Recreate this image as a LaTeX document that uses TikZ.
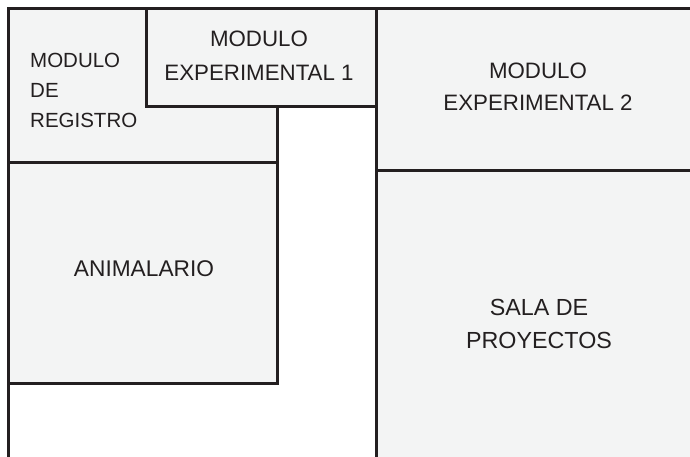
\documentclass[tikz,border=0pt]{standalone}
\usepackage{fontspec}
\setmainfont{Liberation Sans}
\usetikzlibrary{calc,positioning}

\definecolor{wallc}{HTML}{231F20}
\definecolor{roomc}{HTML}{F3F4F4}

\tikzset{
    wall/.style={line width=3pt,draw=wallc,line cap=rect},
    room/.style={fill=roomc},
    roomname/.style={text=wallc,inner sep=0pt}
}

\begin{document}
\begin{tikzpicture}[x=1pt,y=-1pt]
            \useasboundingbox (0,0) rectangle (690,457);
            % corners of the plan
            \coordinate (TL) at (8,9);
            \coordinate (TR) at (690,9);
            \coordinate (BL) at (8,457);
            \coordinate (M) at (376,9);
            \coordinate (MB) at (376,457);

            % room fills
            \fill[room] (8,9) rectangle (277,383);
            \fill[room] (146,9) rectangle (376,107);
            \fill[room] (376,9) rectangle (690,457);

            % walls
            \draw[wall] (BL) -- (TL) -- (TR);
            \draw[wall] (M) -- (MB);
            \draw[wall] (146,9) -- (146,107) -- (376,107);
            \draw[wall] (277,107) -- (277,383) -- (8,383);
            \draw[wall] (8,163) -- (277,163);
            \draw[wall] (376,171) -- (690,171);

        % names of the rooms
        \node[roomname,align=left,anchor=west,font=\fontsize{20.5}{30}\selectfont] (registro) at (30,90) {MODULO\\DE\\REGISTRO};
        \node[roomname,align=center,font=\fontsize{22.3}{34}\selectfont] (exp1) at (259,56) {MODULO\\EXPERIMENTAL 1};
        \node[roomname,align=center,font=\fontsize{22.3}{32}\selectfont] (exp2) at (538,87) {MODULO\\EXPERIMENTAL 2};
        \node[roomname,font=\fontsize{22.7}{27}\selectfont] (animal) at (144,269) {ANIMALARIO};
        \node[roomname,align=center,font=\fontsize{23.3}{33}\selectfont] (sala) at (539,323.5) {SALA DE\\PROYECTOS};
        \end{tikzpicture}
\end{document}
